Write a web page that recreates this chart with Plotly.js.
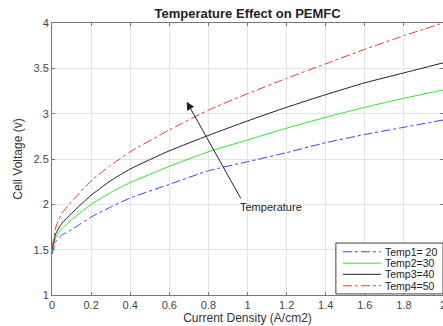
<!DOCTYPE html>
<html>
<head>
<meta charset="utf-8">
<script src="https://cdn.plot.ly/plotly-3.0.1.min.js"></script>
<style>html,body{margin:0;padding:0;background:#fff;}#chart{width:443px;height:326px;}</style>
</head>
<body>
<div id="chart"></div>
<script>
var currentDensity = [0, 0.02, 0.05, 0.1, 0.2, 0.3, 0.4, 0.6, 0.8, 1.0, 1.2, 1.4, 1.6, 1.8, 2.0];
var temp1 = [1.45, 1.59, 1.66, 1.72, 1.86, 1.97, 2.07, 2.22, 2.37, 2.47, 2.57, 2.68, 2.77, 2.85, 2.93];
var temp2 = [1.48, 1.64, 1.73, 1.83, 2.00, 2.13, 2.24, 2.42, 2.58, 2.71, 2.84, 2.96, 3.07, 3.17, 3.26];
var temp3 = [1.50, 1.68, 1.79, 1.90, 2.10, 2.26, 2.39, 2.59, 2.76, 2.92, 3.07, 3.21, 3.34, 3.45, 3.56];
var temp4 = [1.52, 1.75, 1.90, 2.03, 2.26, 2.43, 2.58, 2.82, 3.04, 3.22, 3.39, 3.55, 3.71, 3.86, 4.00];
var seriesNames = ['Temp1= 20', 'Temp2=30', 'Temp3=40', 'Temp4=50'];
var xTicks = [0, 0.2, 0.4, 0.6, 0.8, 1, 1.2, 1.4, 1.6, 1.8, 2];
var yTicks = [1, 1.5, 2, 2.5, 3, 3.5, 4];

var FONT = 'Arial, "Liberation Sans", sans-serif';
var styles = [
  {color: '#3a3aff', dash: 'dashdot'},
  {color: '#22ee22', dash: 'solid'},
  {color: '#222222', dash: 'solid'},
  {color: '#ff3030', dash: 'dashdot'}
];
var ys = [temp1, temp2, temp3, temp4];
var traces = ys.map(function (y, i) {
  return {
    x: currentDensity, y: y, name: seriesNames[i], type: 'scatter', mode: 'lines', showlegend: false,
    line: {color: styles[i].color, dash: styles[i].dash, width: 1, shape: 'spline', smoothing: 0.5}
  };
});

var axisCommon = {
  showline: true, linecolor: '#777', linewidth: 1, mirror: 'ticks',
  ticks: 'inside', ticklen: 3, tickcolor: '#777',
  showgrid: true, gridcolor: '#e4e4e4', gridwidth: 1, zeroline: false,
  tickfont: {family: FONT, size: 11, color: '#444'}
};

// custom legend (box, line samples, labels) in paper coordinates
var legRows = [0.159, 0.117, 0.076, 0.034];
var shapes = [{type: 'rect', xref: 'paper', yref: 'paper', x0: 0.726, x1: 1.0, y0: 0.004, y1: 0.191,
               line: {color: '#444', width: 1}, fillcolor: '#fff', layer: 'above'}];
var legAnn = [];
seriesNames.forEach(function (n, i) {
  shapes.push({type: 'line', xref: 'paper', yref: 'paper', x0: 0.744, x1: 0.841, y0: legRows[i], y1: legRows[i],
               line: {color: styles[i].color, dash: styles[i].dash, width: 1}, layer: 'above'});
  legAnn.push({xref: 'paper', yref: 'paper', x: 0.847, y: legRows[i], xanchor: 'left', yanchor: 'middle',
               text: n, showarrow: false, font: {family: FONT, size: 10.5, color: '#222'}});
});

var layout = {
  width: 443, height: 326,
  margin: {l: 52, r: 0, t: 23, b: 31},
  paper_bgcolor: '#fff', plot_bgcolor: '#fff',
  title: {text: '<b>Temperature Effect on PEMFC</b>', x: 0.559, xanchor: 'center', y: 0.958, yanchor: 'middle',
          font: {family: FONT, size: 13, color: '#222'}},
  xaxis: Object.assign({}, axisCommon, {
    range: [0, 2], tickvals: xTicks, ticktext: xTicks.map(String), ticklabeloverflow: 'allow',
    title: {text: 'Current Density (A/cm2)', standoff: 2, font: {family: FONT, size: 12, color: '#333'}}
  }),
  yaxis: Object.assign({}, axisCommon, {
    range: [1, 4], tickvals: yTicks, ticktext: yTicks.map(String),
    title: {text: 'Cell Voltage (v)', standoff: 8, font: {family: FONT, size: 12, color: '#333'}}
  }),
  showlegend: false,
  shapes: shapes,
  annotations: [
    {x: 0.689, y: 3.132, ax: 0.970, ay: 2.048, xref: 'x', yref: 'y', axref: 'x', ayref: 'y',
     text: '', showarrow: true, arrowhead: 2, arrowsize: 1.6, arrowwidth: 1, arrowcolor: '#222'},
    {x: 1.12, y: 1.97, xref: 'x', yref: 'y', text: 'Temperature', showarrow: false,
     font: {family: FONT, size: 11, color: '#222'}}
  ].concat(legAnn)
};

Plotly.newPlot('chart', traces, layout, {displayModeBar: false, staticPlot: true});
</script>
</body>
</html>
